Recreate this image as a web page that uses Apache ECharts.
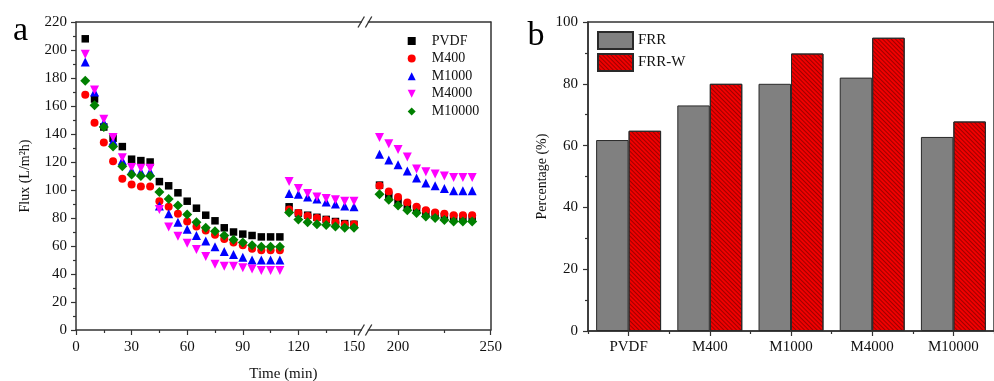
<!DOCTYPE html>
<html><head><meta charset="utf-8">
<script src="https://cdn.jsdelivr.net/npm/echarts@6/dist/echarts.min.js"></script>
<style>html,body{margin:0;padding:0;background:#fff}#c{width:994px;height:381px}</style>
</head><body><div id="c"></div>
<script>
// ---------- Panel a data ----------
const timeA = [5, 10, 15, 20, 25, 30, 35, 40, 45, 50, 55, 60, 65, 70, 75, 80, 85, 90, 95, 100, 105, 110];
const timeB = [115, 120, 125, 130, 135, 140, 145, 150];
const timeC = [190, 195, 200, 205, 210, 215, 220, 225, 230, 235, 240];

const pvdfA = [208, 165, 145, 137, 131, 122, 121, 120, 106, 103, 98, 92, 87, 82, 78, 73, 70, 68.5, 67.5, 66.5, 66.5, 66.5];
const pvdfB = [88, 83.5, 82, 80.5, 79, 77.5, 76, 75.5];
const pvdfC = [103.5, 96, 92, 89, 86.5, 84, 82.5, 81, 80.5, 80, 80];

const m400A = [168, 148, 134, 120.5, 108, 104, 102.5, 102.5, 92, 88, 83, 77.5, 74, 71, 68, 65, 62.5, 60.5, 58, 57, 57, 57];
const m400B = [86, 83.5, 81.5, 80, 78.5, 77, 75.5, 75.5];
const m400C = [103, 99, 95, 91, 88, 85.5, 84, 83, 82, 82, 82];

const m1000A = [191.5, 170, 148, 135, 121, 114, 113, 113, 88.5, 83, 77, 72, 67.5, 63.5, 59.5, 56, 54, 52, 50, 50, 50, 50];
const m1000B = [97.5, 97, 95, 93.5, 91.5, 90, 88.5, 88];
const m1000C = [125.5, 121.5, 118, 113.5, 108.5, 105, 103, 101, 99.5, 99.5, 99.5];

const m4000A = [197, 171.5, 150.5, 137.5, 123, 116, 115.5, 115.5, 86, 73.5, 67, 62, 57.5, 52.5, 47, 45.5, 45.5, 44.5, 43.5, 42.5, 42.5, 42.5];
const m4000B = [106, 101, 97.5, 95, 94, 93, 92, 92];
const m4000C = [137.5, 133, 129, 123.5, 115, 113, 111.5, 110, 109, 109, 109];

const m10000A = [178, 160.5, 145, 131, 117, 111, 110, 110, 98.5, 93.5, 89, 82.5, 77, 73, 70.5, 67.5, 64.5, 62.5, 60.5, 59.5, 59.5, 59.5];
const m10000B = [84, 79, 77, 75.5, 75, 74, 73, 73];
const m10000C = [97, 93, 89, 85.5, 83.5, 81, 80, 78.5, 77.5, 77.5, 77.5];

const sampleNames = ['PVDF', 'M400', 'M1000', 'M4000', 'M10000'];
const xTicksLeft = [0, 30, 60, 90, 120, 150];
const xTicksRight = [200, 250];
const xMinorRight = [225];

// ---------- Panel b data ----------
const barCategories = ['PVDF', 'M400', 'M1000', 'M4000', 'M10000'];
const frr = [61.8, 73, 80, 82, 62.8];
const frrW = [64.8, 80, 89.8, 94.9, 67.8];

// ---------- build ----------
const F = 'Liberation Serif';
const AX = '#333';
const TXT = '#111';
const DOWN_TRI = 'path://M0,0 L10,0 L5,10 Z';

const sampleData = {
  PVDF: [pvdfA, pvdfB, pvdfC],
  M400: [m400A, m400B, m400C],
  M1000: [m1000A, m1000B, m1000C],
  M4000: [m4000A, m4000B, m4000C],
  M10000: [m10000A, m10000B, m10000C]
};
const sampleStyle = {
  PVDF: { symbol: 'rect', size: 7.5, color: '#000000' },
  M400: { symbol: 'circle', size: 8, color: '#ff0000' },
  M1000: { symbol: 'triangle', size: 9, color: '#0000ff' },
  M4000: { symbol: DOWN_TRI, size: 9, color: '#ff00ff' },
  M10000: { symbol: 'diamond', size: 10, color: '#008000' }
};
function pairs(ts, vs) { return ts.map((t, i) => [t, vs[i]]); }

const series = [];
sampleNames.forEach(n => {
  const st = sampleStyle[n];
  const d = sampleData[n];
  const common = {
    name: n, type: 'scatter', symbol: st.symbol, symbolSize: st.size,
    itemStyle: { color: st.color, opacity: 1 }, emphasis: { disabled: true }
  };
  series.push(Object.assign({}, common, { xAxisIndex: 0, yAxisIndex: 0, data: pairs(timeA, d[0]).concat(pairs(timeB, d[1])) }));
  series.push(Object.assign({}, common, { xAxisIndex: 2, yAxisIndex: 1, data: pairs(timeC, d[2]) }));
});
series.push({
  name: 'FRR', type: 'bar', xAxisIndex: 5, yAxisIndex: 2, data: frr,
  barGap: '0%', barCategoryGap: '20%',
  itemStyle: { color: '#808080', borderColor: '#2a2a2a', borderWidth: 1 }
});
series.push({
  name: 'FRR-W', type: 'bar', xAxisIndex: 5, yAxisIndex: 2, data: frrW,
  barGap: '0%', barCategoryGap: '20%',
  itemStyle: {
    color: '#f00000', borderColor: '#2a2a2a', borderWidth: 1,
    decal: { symbol: 'rect', symbolSize: 1, dashArrayX: [1, 0], dashArrayY: [1, 2], rotation: Math.PI / 4, color: 'rgba(90,0,0,0.55)' }
  }
});

const line = { show: true, onZero: false, lineStyle: { color: AX, width: 1.5 } };
const noLine = { show: false };
const tickStyle = { color: AX, width: 1.2 };
const lbl = { fontSize: 15, color: TXT, fontFamily: F };

const legendItemsA = sampleNames.map(n => ({ name: n, icon: sampleStyle[n].symbol }));

const option = {
  animation: false,
  backgroundColor: '#ffffff',
  textStyle: { fontFamily: F, color: TXT },
  grid: [
    { left: 76, top: 22, width: 285.4, height: 308 },
    { left: 368.4, top: 22, width: 122.3, height: 308 },
    { left: 588, top: 22, width: 416, height: 309, show: true, borderColor: AX, borderWidth: 1.5 }
  ],
  xAxis: [
    { gridIndex: 0, type: 'value', min: 0, max: 154, interval: 30, position: 'bottom', axisLine: line,
      axisTick: { show: true, length: 5, customValues: xTicksLeft, lineStyle: tickStyle },
      minorTick: { show: true, splitNumber: 2, length: 3, lineStyle: tickStyle },
      axisLabel: Object.assign({ customValues: xTicksLeft, margin: 10 }, lbl), splitLine: { show: false } },
    { gridIndex: 0, type: 'value', min: 0, max: 154, position: 'top', axisLine: line,
      axisTick: { show: false }, axisLabel: { show: false }, splitLine: { show: false } },
    { gridIndex: 1, type: 'value', min: 184, max: 250, position: 'bottom', axisLine: line,
      axisTick: { show: true, length: 5, customValues: xTicksRight, lineStyle: tickStyle },
      axisLabel: Object.assign({ customValues: xTicksRight, margin: 10 }, lbl), splitLine: { show: false } },
    { gridIndex: 1, type: 'value', min: 184, max: 250, position: 'bottom', axisLine: noLine,
      axisTick: { show: true, length: 3, customValues: xMinorRight, lineStyle: tickStyle },
      axisLabel: { show: false }, splitLine: { show: false } },
    { gridIndex: 1, type: 'value', min: 184, max: 250, position: 'top', axisLine: line,
      axisTick: { show: false }, axisLabel: { show: false }, splitLine: { show: false } },
    { gridIndex: 2, type: 'category', data: barCategories, position: 'bottom', axisLine: line,
      axisTick: { show: true, alignWithLabel: true, length: 5, lineStyle: tickStyle },
      axisLabel: Object.assign({ margin: 9, interval: 0 }, lbl), splitLine: { show: false } },
    { gridIndex: 2, type: 'category', data: barCategories, position: 'bottom', axisLine: noLine,
      axisTick: { show: true, alignWithLabel: false, length: 3, lineStyle: tickStyle },
      axisLabel: { show: false }, splitLine: { show: false } }
  ],
  yAxis: [
    { gridIndex: 0, type: 'value', min: 0, max: 220, interval: 20, position: 'left', axisLine: line,
      axisTick: { show: true, length: 5, lineStyle: tickStyle },
      minorTick: { show: true, splitNumber: 2, length: 3, lineStyle: tickStyle },
      axisLabel: Object.assign({ margin: 9 }, lbl), splitLine: { show: false },
      name: 'Flux (L/m\u00B2h)', nameLocation: 'middle', nameGap: 44, nameTextStyle: { fontSize: 14, color: TXT, fontFamily: F } },
    { gridIndex: 1, type: 'value', min: 0, max: 220, position: 'right', axisLine: line,
      axisTick: { show: false }, axisLabel: { show: false }, splitLine: { show: false } },
    { gridIndex: 2, type: 'value', min: 0, max: 100, interval: 20, position: 'left', axisLine: line,
      axisTick: { show: true, length: 5, lineStyle: tickStyle },
      minorTick: { show: true, splitNumber: 2, length: 3, lineStyle: tickStyle },
      axisLabel: Object.assign({ margin: 10 }, lbl), splitLine: { show: false },
      name: 'Percentage (%)', nameLocation: 'middle', nameGap: 39, nameTextStyle: { fontSize: 14, color: TXT, fontFamily: F } }
  ],
  legend: [
    { data: legendItemsA, orient: 'vertical', left: 407.7, top: 34, padding: 0, itemWidth: 8, itemHeight: 8, itemGap: 3.6,
      textStyle: { fontSize: 14, color: TXT, fontFamily: F, lineHeight: 14, padding: [0, 0, 0, 11] }, selectedMode: false },
    { data: ['FRR', 'FRR-W'], orient: 'vertical', left: 597, top: 31, padding: 0, icon: 'rect', itemWidth: 35, itemHeight: 17, itemGap: 3,
      textStyle: { fontSize: 15, color: TXT, fontFamily: F }, selectedMode: false }
  ],
  series: series
};

const chart = echarts.init(document.getElementById('c'), null, { renderer: 'canvas' });
chart.setOption(option);

// decorations derived from the axes
const pLeftEndBot = chart.convertToPixel({ xAxisIndex: 0, yAxisIndex: 0 }, [154, 0]);
const pRightStartTop = chart.convertToPixel({ xAxisIndex: 2, yAxisIndex: 1 }, [184, 220]);
const pLeft0 = chart.convertToPixel({ xAxisIndex: 0, yAxisIndex: 0 }, [0, 0]);
const pRightEnd = chart.convertToPixel({ xAxisIndex: 2, yAxisIndex: 1 }, [250, 0]);
const bx = (pLeftEndBot[0] + pRightStartTop[0]) / 2;
const yb = pLeftEndBot[1];
const yt = pRightStartTop[1];
function slashes(cx, cy) {
  const out = [];
  [-3.7, 3.7].forEach(off => {
    out.push({ type: 'line', silent: true, z: 100,
      shape: { x1: cx + off - 3.2, y1: cy + 5.5, x2: cx + off + 3.2, y2: cy - 5.5 },
      style: { stroke: AX, lineWidth: 1.3 } });
  });
  return out;
}
const graphics = [].concat(slashes(bx, yb), slashes(bx, yt));
graphics.push({ type: 'text', x: (pLeft0[0] + pRightEnd[0]) / 2, y: 374, silent: true,
  style: { text: 'Time (min)', fontSize: 15, fontFamily: F, fill: TXT, align: 'center', verticalAlign: 'middle' } });
graphics.push({ type: 'text', x: 20.5, y: 31, silent: true,
  style: { text: 'a', fontSize: 34, fontFamily: F, fill: '#000', align: 'center', verticalAlign: 'middle' } });
graphics.push({ type: 'text', x: 536, y: 36, silent: true,
  style: { text: 'b', fontSize: 34, fontFamily: F, fill: '#000', align: 'center', verticalAlign: 'middle' } });
chart.setOption({ graphic: graphics });
</script>
</body></html>
